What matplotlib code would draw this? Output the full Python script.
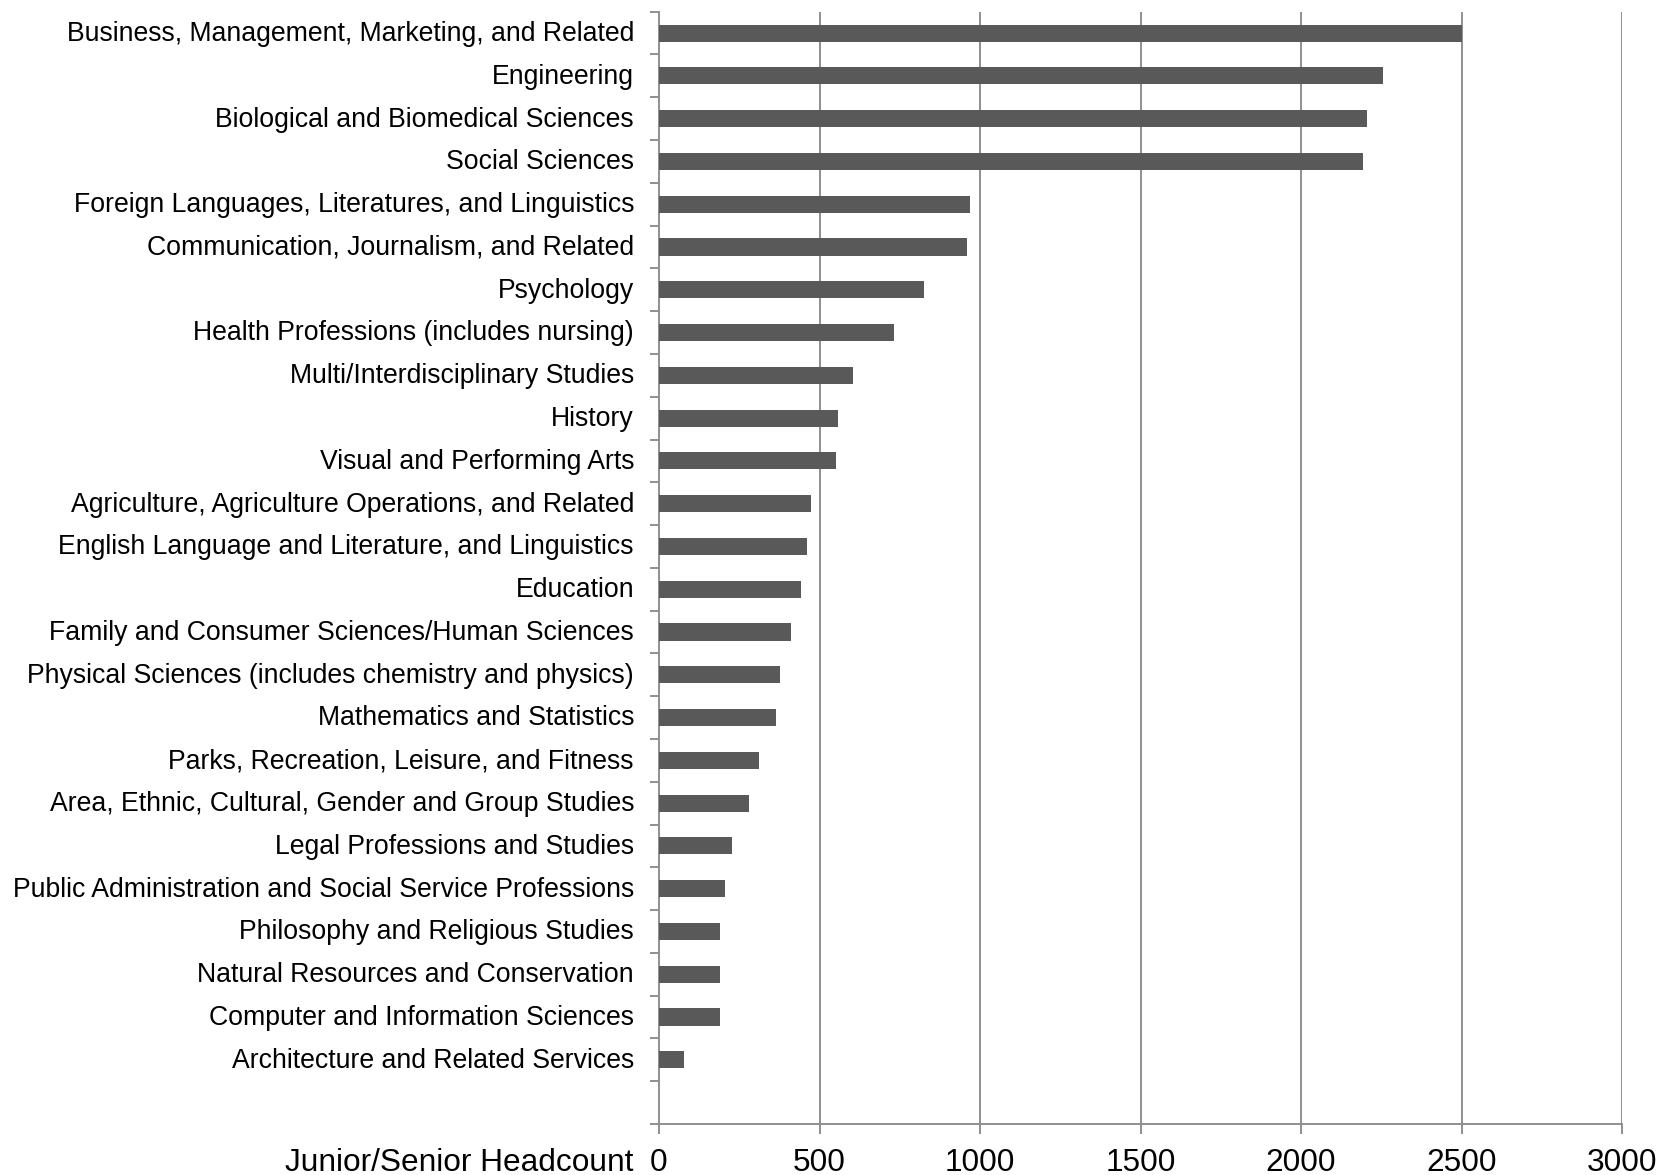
import matplotlib
matplotlib.use("Agg")
import matplotlib.pyplot as plt
import matplotlib.transforms as mtransforms
import numpy as np

categories = [
    "Business, Management, Marketing, and Related",
    "Engineering",
    "Biological and Biomedical Sciences",
    "Social Sciences",
    "Foreign Languages, Literatures, and Linguistics",
    "Communication, Journalism, and Related",
    "Psychology",
    "Health Professions (includes nursing)",
    "Multi/Interdisciplinary Studies",
    "History",
    "Visual and Performing Arts",
    "Agriculture, Agriculture Operations, and Related",
    "English Language and Literature, and Linguistics",
    "Education",
    "Family and Consumer Sciences/Human Sciences",
    "Physical Sciences (includes chemistry and physics)",
    "Mathematics and Statistics",
    "Parks, Recreation, Leisure, and Fitness",
    "Area, Ethnic, Cultural, Gender and Group Studies",
    "Legal Professions and Studies",
    "Public Administration and Social Service Professions",
    "Philosophy and Religious Studies",
    "Natural Resources and Conservation",
    "Computer and Information Sciences",
    "Architecture and Related Services",
]
headcount = [2500, 2257, 2207, 2192, 970, 959, 826, 733, 603, 557, 552,
             473, 462, 441, 411, 377, 366, 312, 280, 227, 206, 191, 191, 190, 79]
xticks = [0, 500, 1000, 1500, 2000, 2500, 3000]
xlabel = "Junior/Senior Headcount"

plt.rcParams['font.family'] = ['Liberation Sans', 'DejaVu Sans']

fig = plt.figure(figsize=(16.75, 11.75), dpi=100)
ax = fig.add_axes([659/1675, 1 - 1124/1175, (1622 - 659)/1675, (1124 - 11.7)/1175])

n_slots = len(categories) + 1
ypos = np.arange(len(categories)) + 0.5
ax.barh(ypos, headcount, height=0.4, color="#595959", zorder=3)

ax.set_ylim(n_slots, 0)
ax.set_xlim(0, 3000)

grid_col = "#8f8f8f"
ax.set_xticks(xticks)
ax.set_xticklabels([str(t) for t in xticks], fontsize=22.8)
for t in xticks[1:]:
    ax.axvline(t, color=grid_col, lw=1.4, zorder=1)

ax.set_yticks(ypos)
ax.set_yticklabels(categories, fontsize=19.2, va='center_baseline')
ax.set_yticks(np.arange(n_slots + 1), minor=True)
ax.tick_params(axis='y', which='major', length=0, pad=18)
ax.tick_params(axis='y', which='minor', length=6.5, width=1.4, color=grid_col)
ax.tick_params(axis='x', which='major', length=7, width=1.4, color=grid_col, pad=10)

shift = mtransforms.ScaledTranslation(0, 1.5/72, fig.dpi_scale_trans)
for lab in ax.get_yticklabels():
    lab.set_transform(lab.get_transform() + shift)

for s in ['top', 'right']:
    ax.spines[s].set_visible(False)
for s in ['left', 'bottom']:
    ax.spines[s].set_color(grid_col)
    ax.spines[s].set_linewidth(1.4)

fig.text(633/1675, 1 - 1163/1175, xlabel, ha='right', va='center', fontsize=22.8)

fig.savefig("out.png", dpi=100, facecolor="white")
